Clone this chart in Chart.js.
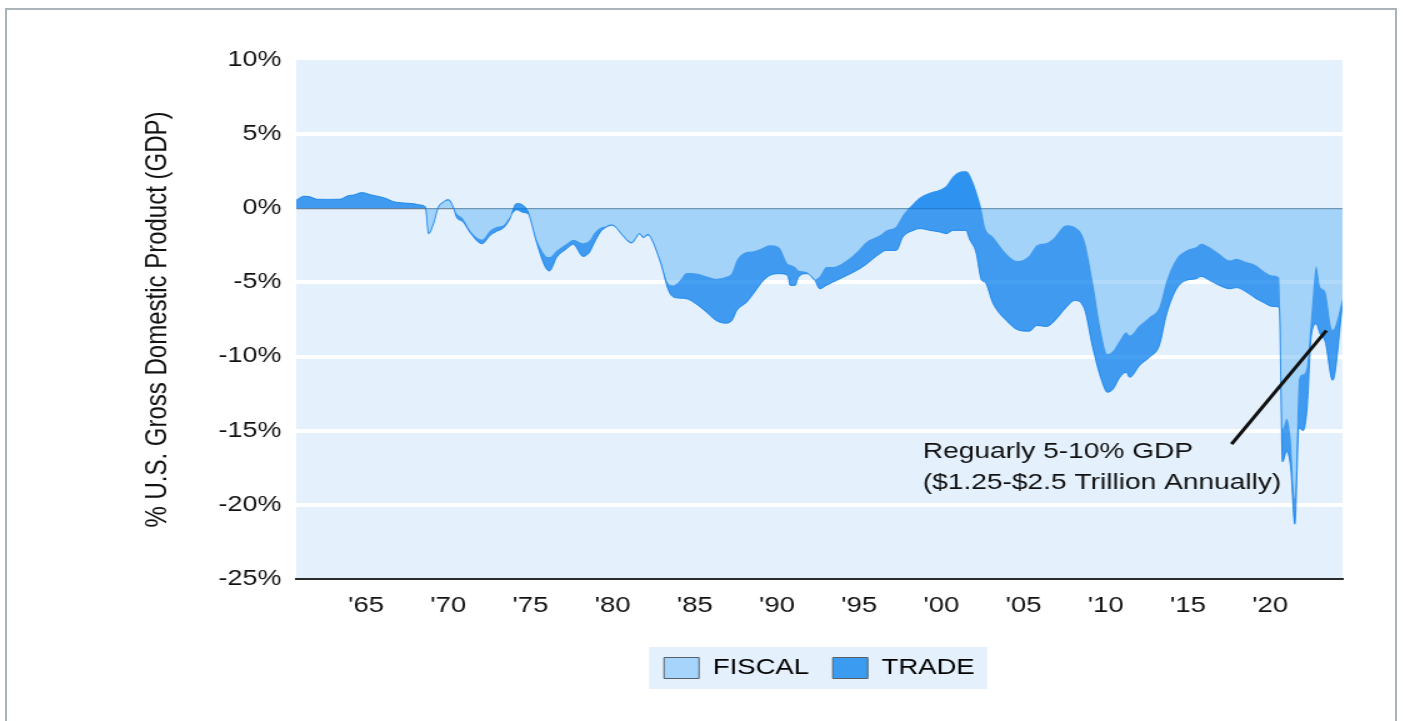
<!DOCTYPE html>
<html>
<head>
<meta charset="utf-8">
<title>Fiscal and trade balance, % of GDP</title>
<script src="https://cdn.jsdelivr.net/npm/chart.js@4.4.1/dist/chart.umd.min.js"></script>
<style>
  html, body { margin: 0; padding: 0; background: #fff; overflow: hidden; }
  #wrap { position: relative; width: 1403px; height: 721px; }
  /* the source picture is stretched sideways, so the canvas is too */
  #chart { position: absolute; left: 0; top: 0; transform: scaleX(1.25); transform-origin: 0 0; }
  #frame { position: absolute; left: 5px; top: 8px; width: 1392px; height: 760px;
           border: 2px solid #a9b3b8; box-sizing: border-box; pointer-events: none; }
</style>
</head>
<body>
<div id="wrap">
  <canvas id="chart" width="1123" height="721"></canvas>
  <div id="frame"></div>
</div>
<script>
// year (decimal), fiscal balance % GDP, trade balance % GDP
const YEARS = [
  1960.75, 1961.2, 1961.6, 1962.0, 1962.7, 1963.4, 1963.9, 1964.25, 1964.75, 1965.25, 1965.75, 1966.25,
  1966.65, 1967.25, 1967.9, 1968.3, 1968.6, 1968.8, 1969.1, 1969.4, 1969.7, 1970.0, 1970.3, 1970.5,
  1970.9, 1971.35, 1972.05, 1972.55, 1972.95, 1973.35, 1973.75, 1974.15, 1974.55, 1974.85, 1975.4, 1975.9,
  1976.15, 1976.6, 1977.2, 1977.6, 1978.2, 1978.6, 1978.85, 1979.25, 1979.55, 1979.95, 1980.15, 1980.55,
  1981.15, 1981.65, 1981.85, 1982.15, 1982.35, 1982.9, 1983.4, 1983.7, 1984.1, 1984.5, 1985.2, 1985.7,
  1986.3, 1986.85, 1987.25, 1987.55, 1988.15, 1988.55, 1989.05, 1989.55, 1990.15, 1990.65, 1990.8, 1991.1,
  1991.3, 1991.8, 1992.3, 1992.6, 1993.0, 1993.4, 1994.25, 1994.85, 1995.4, 1996.25, 1996.65, 1997.25,
  1997.65, 1998.3, 1998.7, 1999.3, 1999.9, 2000.3, 2000.7, 2001.1, 2001.5, 2001.7, 2002.1, 2002.45,
  2002.65, 2003.15, 2003.95, 2004.65, 2005.35, 2005.8, 2006.4, 2006.8, 2007.6, 2008.1, 2008.7, 2009.2,
  2009.75, 2010.1, 2010.45, 2010.85, 2011.25, 2011.45, 2012.05, 2012.65, 2013.25, 2013.7, 2014.3, 2014.9,
  2015.5, 2015.8, 2016.3, 2016.9, 2017.55, 2017.95, 2018.55, 2019.15, 2019.55, 2020.15, 2020.55, 2020.75,
  2021.0, 2021.25, 2021.5, 2021.75, 2022.0, 2022.25, 2022.5, 2022.8, 2023.05, 2023.35, 2023.8, 2024.4
];
const FISCAL = [
  0, 0, 0, 0, 0, 0, 0, 0, 0, 0, 0, 0,
  0, 0, 0, 0, -0.05, -1.65, -1.0, 0.05, 0.38, 0.52, 0.05, -0.36,
  -0.7, -1.53, -2.1, -1.49, -1.26, -1.15, -0.59, -0.14, -0.32, -0.4, -2.16, -3.18,
  -3.29, -2.84, -2.39, -2.12, -2.35, -2.15, -1.71, -1.31, -1.22, -1.08, -1.2, -1.71,
  -2.27, -1.67, -1.9, -1.71, -1.98, -3.51, -5.09, -5.2, -4.86, -4.37, -4.41, -4.59,
  -4.75, -4.64, -4.37, -3.51, -2.95, -2.9, -2.72, -2.5, -2.66, -3.74, -3.8, -3.96,
  -4.19, -4.3, -4.82, -4.59, -3.96, -3.96, -3.51, -2.95, -2.3, -1.82, -1.49, -1.22,
  -0.47, 0.32, 0.72, 1.04, 1.25, 1.51, 2.12, 2.45, 2.5, 2.3, 1.22, -0.14,
  -1.26, -1.94, -3.06, -3.56, -3.18, -2.5, -2.34, -2.05, -1.15, -1.26, -2.16, -4.86,
  -8.47, -9.82, -9.6, -8.92, -8.36, -8.58, -7.9, -7.34, -6.67, -4.86, -3.4, -2.84,
  -2.61, -2.39, -2.61, -3.06, -3.51, -3.4, -3.63, -3.85, -4.19, -4.53, -4.68, -14.9,
  -14.2, -15.5, -19.6, -11.5, -11.2, -10.5, -7.2, -3.9, -5.3, -5.6, -8.2, -6.1
];
const TRADE = [
  0.54, 0.81, 0.77, 0.61, 0.6, 0.61, 0.85, 0.9, 1.06, 0.92, 0.8, 0.65,
  0.45, 0.36, 0.31, 0.22, 0.15, -0.06, -0.04, 0.04, 0.05, 0.07, 0.04, -0.23,
  -0.22, -0.14, -0.29, -0.33, -0.29, -0.18, -0.11, 0.46, 0.52, 0.15, -0.24, -0.78,
  -0.94, -0.45, -0.34, -0.31, -0.9, -0.8, -0.68, -0.29, -0.09, -0.07, -0.04, -0.05,
  -0.07, -0.05, -0.08, -0.09, -0.07, -0.12, -0.45, -0.79, -1.2, -1.73, -2.14, -2.41,
  -2.82, -3.11, -3.2, -3.38, -3.38, -2.87, -2.3, -2.03, -1.75, -0.79, -1.4, -1.24,
  -0.45, -0.11, -0.04, -0.84, -1.24, -1.02, -1.02, -1.24, -1.5, -1.24, -1.35, -1.62,
  -1.47, -1.81, -2.09, -2.53, -2.85, -3.22, -3.61, -3.94, -3.99, -4.35, -4.17, -4.72,
  -3.72, -4.5, -4.51, -4.64, -5.11, -5.4, -5.63, -5.63, -5.52, -4.96, -4.62, -4.51,
  -3.15, -2.59, -2.58, -2.48, -2.7, -2.82, -2.7, -2.71, -2.59, -2.26, -2.03, -2.02,
  -2.14, -2.2, -2.25, -2.14, -1.92, -1.95, -2.02, -2.25, -2.14, -2.09, -1.99, -2.2,
  -2.2, -2.0, -1.7, -3.3, -3.8, -2.9, -1.4, -3.9, -3.2, -3.4, -3.4, -0.4
];
const TICK_YEARS = [1965, 1970, 1975, 1980, 1985, 1990, 1995, 2000, 2005, 2010, 2015, 2020];
const TICK_LABELS = ["'65", "'70", "'75", "'80", "'85", "'90", "'95", "'00", "'05", "'10", "'15", "'20"];
const NOTE_TEXT = ['Reguarly 5-10% GDP', '($1.25-$2.5 Trillion Annually)'];

const FONT = '"Liberation Sans", Arial, sans-serif';
Chart.defaults.font.family = FONT;
Chart.defaults.color = '#111';

// trade is drawn stacked on top of the fiscal line
const fiscalPts = YEARS.map((yr, i) => ({x: yr, y: FISCAL[i]}));
const tradePts = YEARS.map((yr, i) => ({x: yr, y: +(FISCAL[i] + TRADE[i]).toFixed(2)}));

const backdrop = {
  id: 'backdrop',
  beforeDraw(chart) {
    const {ctx, chartArea: a} = chart;
    ctx.save();
    ctx.fillStyle = '#e4f0fc';
    ctx.fillRect(a.left, a.top, a.right - a.left, a.bottom - a.top);
    const boxes = chart.legend && chart.legend.legendHitBoxes;
    if (boxes && boxes.length) {
      const l = Math.min(...boxes.map(b => b.left)) - 12;
      const r = Math.max(...boxes.map(b => b.left + b.width)) + 10;
      const t = Math.min(...boxes.map(b => b.top)) - 10;
      const btm = Math.max(...boxes.map(b => b.top + b.height)) + 10;
      ctx.fillRect(l, t, r - l, btm - t);
    }
    ctx.restore();
  }
};

const note = {
  id: 'note',
  afterDatasetsDraw(chart) {
    const {ctx, scales: {x, y}} = chart;
    ctx.save();
    ctx.strokeStyle = '#111';
    ctx.lineWidth = 3;
    ctx.beginPath();
    ctx.moveTo(x.getPixelForValue(2017.65), y.getPixelForValue(-15.9));
    ctx.lineTo(x.getPixelForValue(2023.42), y.getPixelForValue(-8.24));
    ctx.stroke();
    ctx.fillStyle = '#111';
    ctx.font = '22.5px ' + FONT;
    ctx.textBaseline = 'middle';
    const tx = x.getPixelForValue(1998.87);
    const ty = y.getPixelForValue(-16.45);
    NOTE_TEXT.forEach((t, i) => ctx.fillText(t, tx, ty + i * 31));
    ctx.restore();
  }
};

new Chart(document.getElementById('chart'), {
  type: 'line',
  data: {
    datasets: [
      {
        label: 'FISCAL',
        data: fiscalPts,
        order: 1,
        fill: 'origin',
        backgroundColor: 'rgba(100, 181, 246, 0.5)',
        borderColor: 'rgba(100, 181, 246, 0.5)',
        borderWidth: 0,
        pointRadius: 0,
        cubicInterpolationMode: 'monotone'
      },
      {
        label: 'TRADE',
        data: tradePts,
        order: 0,
        fill: '-1',
        backgroundColor: 'rgba(0, 122, 235, 0.72)',
        borderColor: 'rgba(0, 122, 235, 0.75)',
        borderWidth: 1,
        pointRadius: 0,
        cubicInterpolationMode: 'monotone'
      }
    ]
  },
  options: {
    responsive: false,
    animation: false,
    layout: { padding: { left: 100, right: 49, top: 60, bottom: 32 } },
    plugins: {
      tooltip: { enabled: false },
      legend: {
        position: 'bottom',
        fullSize: false,
        labels: {
          boxWidth: 28,
          boxHeight: 21,
          padding: 19,
          color: '#111',
          font: { size: 22 },
          generateLabels: () => [
            { text: 'FISCAL', fillStyle: '#a6d4fa', strokeStyle: '#55606a', lineWidth: 1, datasetIndex: 0, hidden: false },
            { text: 'TRADE', fillStyle: '#3a9bf0', strokeStyle: '#55606a', lineWidth: 1, datasetIndex: 1, hidden: false }
          ]
        }
      }
    },
    scales: {
      x: {
        type: 'linear',
        min: 1960.75,
        max: 2024.4,
        afterBuildTicks: (axis) => { axis.ticks = TICK_YEARS.map(v => ({ value: v })); },
        afterFit: (axis) => { axis.height = 59; },
        grid: { display: false, drawTicks: false },
        border: { display: true, color: '#2b2b2b', width: 2 },
        ticks: {
          padding: 14,
          maxRotation: 0,
          autoSkip: false,
          color: '#111',
          font: { size: 22 },
          callback: (v) => TICK_LABELS[TICK_YEARS.indexOf(v)]
        }
      },
      y: {
        min: -25,
        max: 10,
        afterFit: (axis) => { axis.width = 137; },
        ticks: {
          stepSize: 5,
          padding: 12,
          color: '#111',
          font: { size: 21.5 },
          callback: (v) => v + '%'
        },
        border: { display: false },
        grid: {
          drawTicks: false,
          color: (c) => {
            const v = c.tick && c.tick.value;
            if (v === 0) return 'rgba(50, 60, 70, 0.6)';
            if (v === 10 || v === -25) return 'rgba(0,0,0,0)';
            return '#ffffff';
          },
          lineWidth: (c) => (c.tick && c.tick.value === 0 ? 1.3 : 4)
        },
        title: {
          display: true,
          text: '% U.S. Gross Domestic Product (GDP)',
          color: '#111',
          font: { size: 24 },
          padding: { top: 12, bottom: 0 }
        }
      }
    }
  },
  plugins: [backdrop, note]
});
</script>
</body>
</html>
